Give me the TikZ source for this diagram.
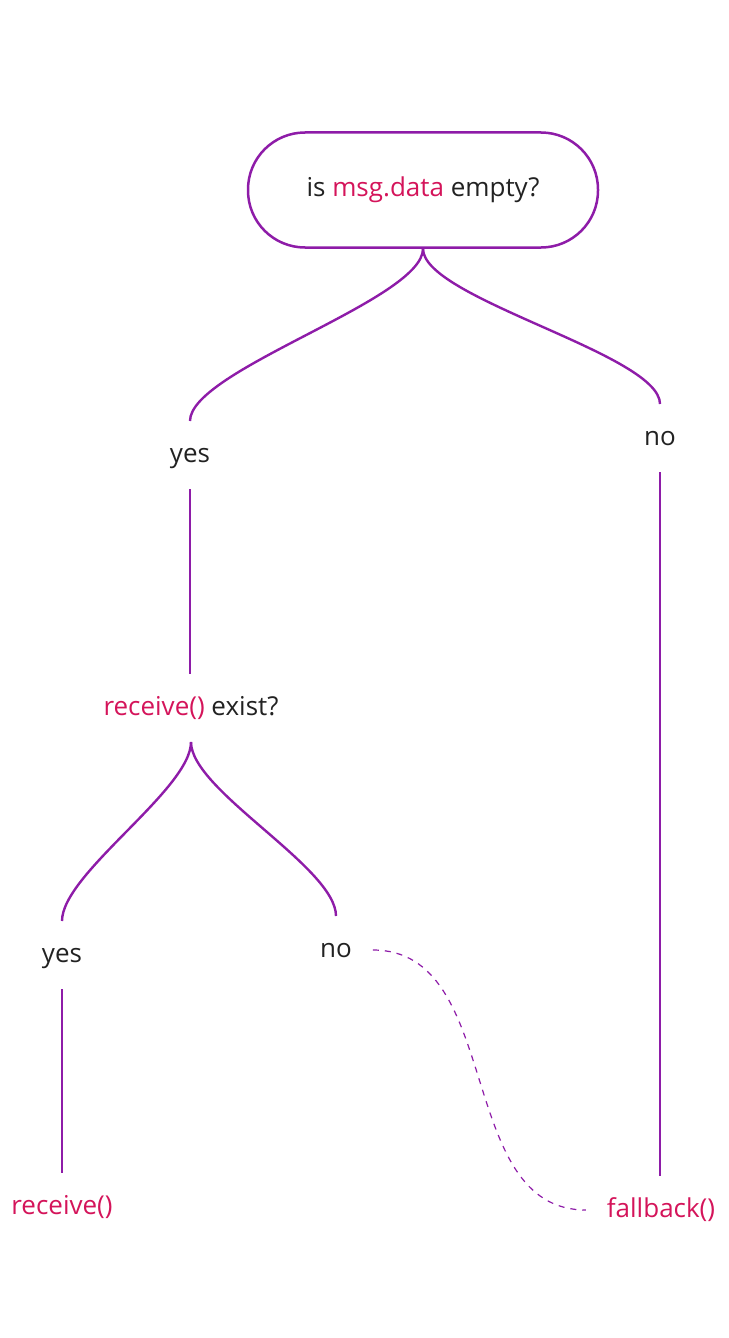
\documentclass[tikz,border=0pt]{standalone}
\usepackage{fontspec}
\setmainfont{Open Sans}
\usetikzlibrary{positioning}
\definecolor{branch}{HTML}{8E1CA8}
\definecolor{code}{HTML}{D4145A}
\definecolor{ink}{HTML}{222222}

\begin{document}
\begin{tikzpicture}[x=0.5pt,y=0.5pt,
    every node/.style={font=\fontsize{13}{15}\selectfont, text=ink},
    question/.style={draw=branch, line width=1.25pt, rounded corners=28.5pt,
        minimum width=175pt, minimum height=57.5pt},
    answer/.style={inner sep=0pt, outer sep=10.5pt, text height=10pt, text depth=3pt},
    fn/.style={answer, text=code},
    edge/.style={draw=branch, line width=1.2pt},
    weak/.style={draw=branch, line width=0.6pt, dash pattern=on 3pt off 3pt}]
    \useasboundingbox (0,0) rectangle (728,-1338);
    % question nodes
    \node[question] (empty) at (423,-190) {is \textcolor{code}{msg.data} empty?};
    \node[answer] (exist) at (191,-708) {\textcolor{code}{receive()} exist?};
    % answers
    \node[answer] (yesA) at (190,-455) {yes};
    \node[answer] (noA) at (660,-438) {no};
    \node[answer] (yesB) at (62,-955) {yes};
    \node[answer] (noB) at (336,-950) {no};
    % functions
    \node[fn] (recv) at (62,-1207) {receive()};
    \node[fn] (fallback) at (661,-1210) {fallback()};
    % branches
    \draw[edge] (empty.south) to[out=-90,in=90,looseness=0.45] (yesA.north);
    \draw[edge] (empty.south) to[out=-90,in=90,looseness=0.45] (noA.north);
    \draw[edge] (yesA.south) -- (yesA.south |- exist.north);
    \draw[edge] (exist.south) to[out=-90,in=90,looseness=0.55] (yesB.north);
    \draw[edge] (exist.south) to[out=-90,in=90,looseness=0.55] (noB.north);
    \draw[edge] (yesB.south) -- (recv.north);
    \draw[edge] (noA.south) -- (noA.south |- fallback.north);
    \draw[weak] (noB.east) to[out=0,in=180] (fallback.west);
\end{tikzpicture}
\end{document}
